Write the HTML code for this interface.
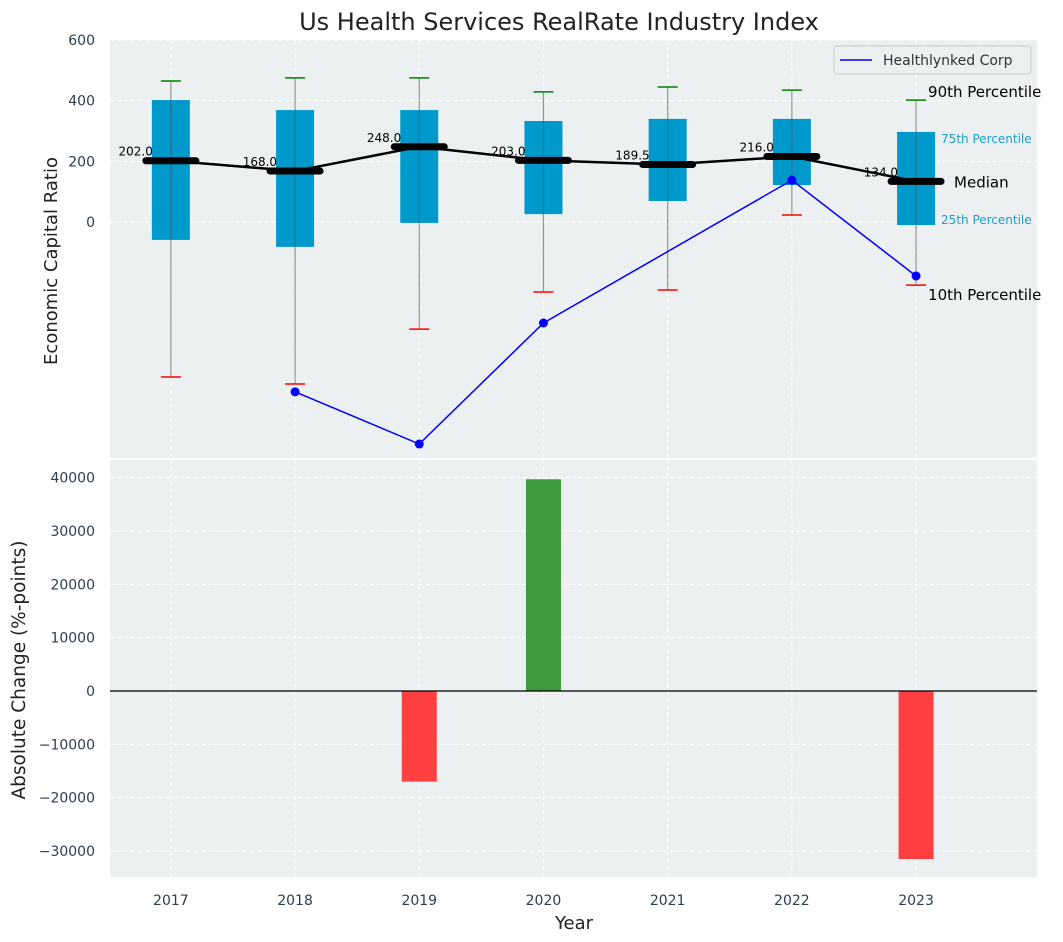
<!DOCTYPE html>
<html><head><meta charset="utf-8"><style>
body{margin:0;background:#fff;}
svg{display:block;font-family:"DejaVu Sans","Liberation Sans",sans-serif;}
</style></head><body>
<svg id="chart" width="1063" height="942" xmlns="http://www.w3.org/2000/svg"></svg>
<script>
const years=['2017','2018','2019','2020','2021','2022','2023'];
const p10=[-511,-534,-353,-231,-224,23,-208];
const q1=[-59,-82,-3,26,69,122,-10];
const medians=[202,168,248,203,189.5,216,134];
const q3=[402,369,369,333,340,340,297];
const p90=[465,475,475,429,445,435,402];
const companyYears=[1,2,3,5,6];
const companyVals=[-560,-732,-333,138,-178];
const changeYears=[2,3,6];
const changeVals=[-17000,39700,-31500];
const topTicks=[0,200,400,600];
const botTicks=[-30000,-20000,-10000,0,10000,20000,30000,40000];

const NS='http://www.w3.org/2000/svg';
const svg=document.getElementById('chart');
function mk(t,a,p){const e=document.createElementNS(NS,t);for(const k in a)e.setAttribute(k,a[k]);(p||svg).appendChild(e);return e;}
const L=110,R=1037;
const x=i=>L+(i+0.49)*124.2;
const yT=v=>222-v*0.3033;
const yB=v=>691-v*0.005333;
let e=mk('rect',{x:L,y:40,width:R-L,height:418,fill:'#ECF0F1'});

e=mk('rect',{x:L,y:460,width:R-L,height:417,fill:'#ECF0F1'});

years.forEach((y,i)=>{
 mk('line',{x1:x(i),x2:x(i),y1:40,y2:458,stroke:'#fff','stroke-dasharray':'4,3','stroke-width':1});
 mk('line',{x1:x(i),x2:x(i),y1:460,y2:877,stroke:'#fff','stroke-dasharray':'4,3','stroke-width':1});
 e=mk('text',{x:x(i),y:905,'text-anchor':'middle','font-size':14,fill:'#2c3e50'});e.textContent=y;
 
});
topTicks.forEach(v=>{
 mk('line',{x1:L,x2:R,y1:yT(v),y2:yT(v),stroke:'#fff','stroke-dasharray':'4,3'});
 e=mk('text',{x:95,y:yT(v)+5,'text-anchor':'end','font-size':14,fill:'#2c3e50'});e.textContent=v;
 
});
botTicks.forEach(v=>{
 mk('line',{x1:L,x2:R,y1:yB(v),y2:yB(v),stroke:'#fff','stroke-dasharray':'4,3'});
 e=mk('text',{x:95,y:yB(v)+5,'text-anchor':'end','font-size':14,fill:'#2c3e50'});e.textContent=(v<0?'\u2212'+(-v):v);
 
});
years.forEach((y,i)=>{
 const cx=x(i);
 e=mk('rect',{x:cx-19,y:yT(q3[i]),width:38,height:yT(q1[i])-yT(q3[i]),fill:'#0099CC'});
 
 mk('line',{x1:cx,x2:cx,y1:yT(p90[i]),y2:yT(p10[i]),stroke:'#555','stroke-opacity':0.6,'stroke-width':1.2});
 e=mk('line',{x1:cx-10,x2:cx+10,y1:yT(p90[i]),y2:yT(p90[i]),stroke:'green','stroke-width':1.5});
 
 e=mk('line',{x1:cx-10,x2:cx+10,y1:yT(p10[i]),y2:yT(p10[i]),stroke:'red','stroke-width':1.5});
 
});
e=mk('polyline',{points:medians.map((m,i)=>x(i)+','+yT(m)).join(' '),fill:'none',stroke:'#000','stroke-width':2.5});

years.forEach((y,i)=>{
 e=mk('line',{x1:x(i)-25,x2:x(i)+25,y1:yT(medians[i]),y2:yT(medians[i]),stroke:'#000','stroke-width':7,'stroke-linecap':'round'});
 
 e=mk('text',{x:x(i)-18,y:yT(medians[i])-5,'text-anchor':'end','font-size':12,fill:'#000'});e.textContent=medians[i].toFixed(1);
 
});
e=mk('polyline',{points:companyYears.map((c,k)=>x(c)+','+yT(companyVals[k])).join(' '),fill:'none',stroke:'blue','stroke-width':1.5});

companyYears.forEach((c,k)=>{e=mk('circle',{cx:x(c),cy:yT(companyVals[k]),r:4.5,fill:'blue'});
 });
const last=6,cx=x(last);
[['90th Percentile',cx+12,yT(p90[last])-3,15,'#000'],['75th Percentile',cx+25,yT(q3[last])+11,12,'#1a9fd0'],['Median',cx+38,yT(medians[last])+6,15,'#000'],['25th Percentile',cx+25,yT(q1[last])-1,12,'#1a9fd0'],['10th Percentile',cx+12,yT(p10[last])+15,15,'#000']].forEach(a=>{
 e=mk('text',{x:a[1],y:a[2],'font-size':a[3],fill:a[4]});e.textContent=a[0];
 
});
const lg=mk('g',{});
mk('rect',{x:834,y:46,width:197,height:28,rx:3,fill:'#ECF0F1',stroke:'#ccc'},lg);
mk('line',{x1:840,x2:872,y1:60,y2:60,stroke:'blue','stroke-width':1.5},lg);
e=mk('text',{x:883,y:65,'font-size':14,fill:'#333'},lg);e.textContent='Healthlynked Corp';
changeYears.forEach((c,k)=>{const v=changeVals[k];
 e=mk('rect',{x:x(c)-17.5,y:Math.min(yB(v),yB(0)),width:35,height:Math.abs(yB(v)-yB(0)),fill:v>=0?'#3d9b3d':'#ff4040'});
 
});
e=mk('line',{x1:L,x2:R,y1:yB(0),y2:yB(0),stroke:'#000','stroke-width':1.2});

e=mk('text',{x:559,y:30,'text-anchor':'middle','font-size':24,fill:'#222'});e.textContent='Us Health Services RealRate Industry Index';

e=mk('text',{x:574,y:929,'text-anchor':'middle','font-size':18,fill:'#222'});e.textContent='Year';

e=mk('text',{x:0,y:0,'text-anchor':'middle','font-size':18,fill:'#222',transform:'translate(57,261) rotate(-90)'});e.textContent='Economic Capital Ratio';

e=mk('text',{x:0,y:0,'text-anchor':'middle','font-size':18.5,fill:'#222',transform:'translate(25,670) rotate(-90)'});e.textContent='Absolute Change (%-points)';

</script>
</body></html>
